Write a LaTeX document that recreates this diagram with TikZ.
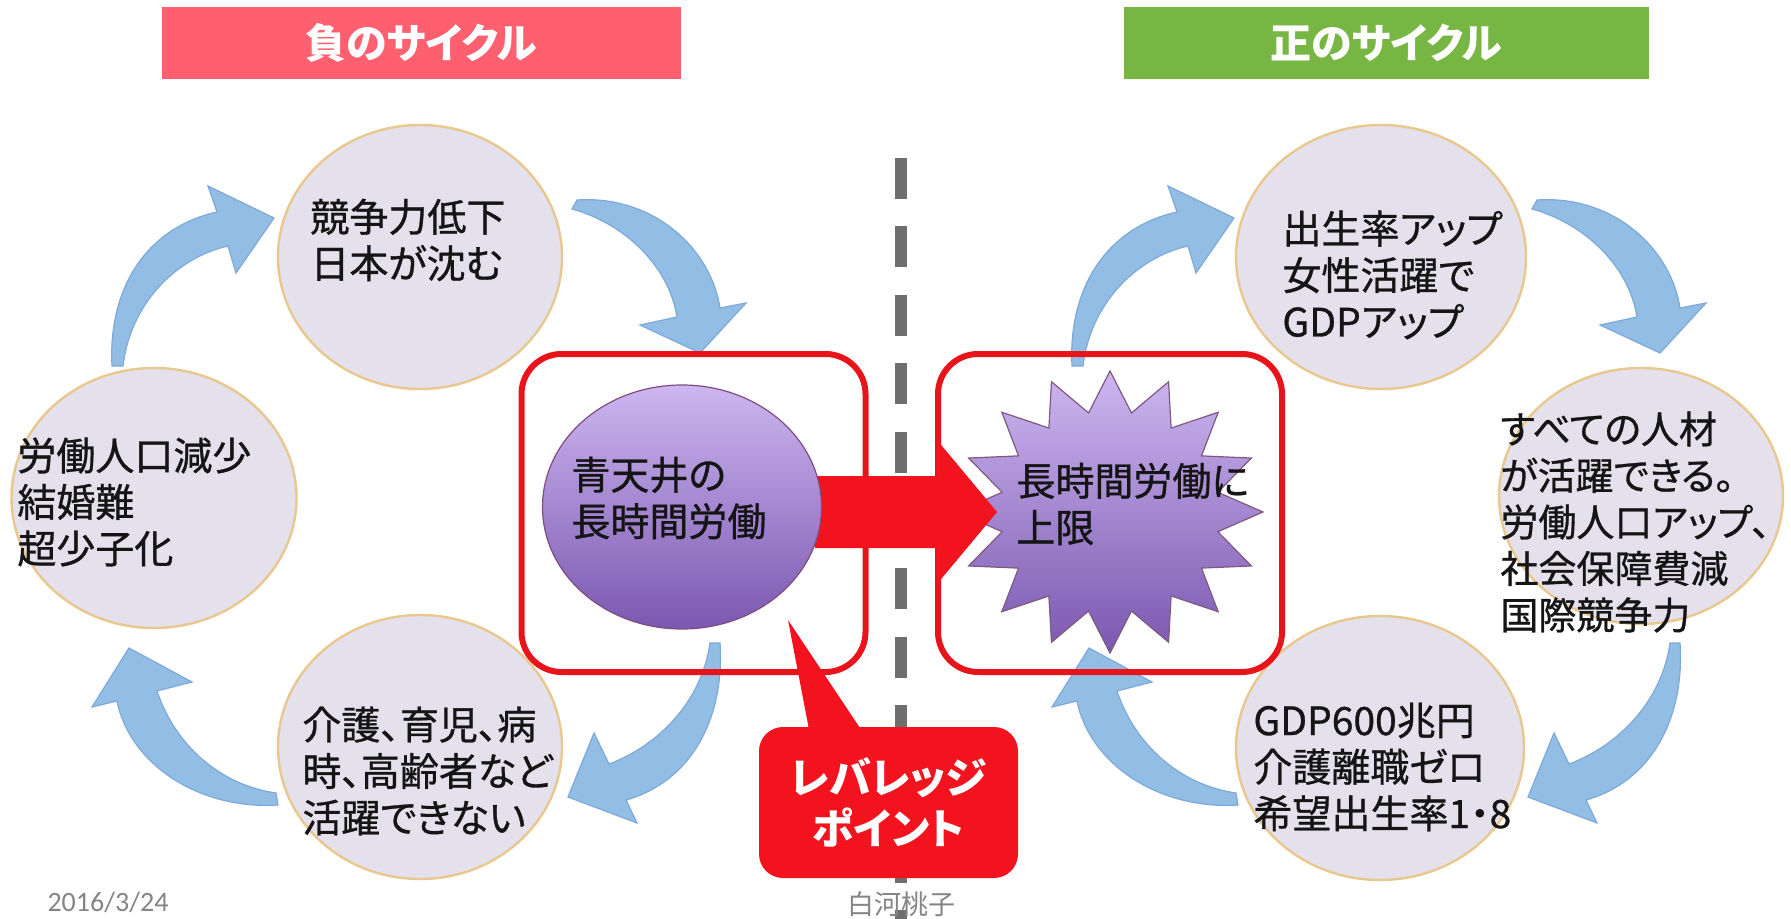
\documentclass[tikz,border=0pt]{standalone}
\usepackage{fontspec}
\setmainfont{Noto Sans CJK JP}[RawFeature=+palt]
\newfontfamily\jpmed{Noto Sans CJK JP}[RawFeature=+palt,FakeBold=0.8]
\newfontfamily\carl{Carlito}
\usetikzlibrary{shapes.geometric}
\definecolor{hdrpink}{HTML}{FE6070}
\definecolor{hdrgreen}{HTML}{78B643}
\definecolor{circfill}{HTML}{E4E1EC}
\definecolor{circline}{HTML}{E8C88E}
\definecolor{bluefill}{HTML}{92BEE5}
\definecolor{blueline}{HTML}{7EA9D8}
\definecolor{boxred}{HTML}{E8141C}
\definecolor{arrred}{HTML}{F2131E}
\definecolor{divgray}{HTML}{6E6E6E}
\definecolor{footgray}{HTML}{858585}
\definecolor{purtop}{HTML}{CDB6F0}
\definecolor{purbot}{HTML}{7A58B0}
\definecolor{txtdark}{HTML}{151515}
\begin{document}
\begin{tikzpicture}[x=0.5pt,y=-0.5pt,
  hdr/.style={text=white,inner sep=0pt,font=\bfseries\fontsize{20.5}{24}\selectfont},
  divline/.style={line width=6pt,draw=divgray,dash pattern=on 20.5pt off 13.7pt},
  barrow/.style={fill=bluefill,draw=blueline,line width=0.6pt},
  circ/.style={ellipse,fill=circfill,draw=circline,line width=1.2pt,inner sep=0pt},
  redbox/.style={draw=boxred,line width=3pt,rounded corners=20pt,inner sep=0pt,minimum width=172pt,minimum height=159pt},
  ctext/.style={align=left,anchor=west,inner sep=0pt,text=txtdark,font=\jpmed\fontsize{19.5}{23.25}\selectfont},
  foot/.style={text=footgray,inner sep=0pt}]
\useasboundingbox (0,0) rectangle (1791,919);
\fill[white] (0,0) rectangle (1791,919);

% headers
\node[hdr,fill=hdrpink,minimum width=259.5pt,minimum height=36pt] (hneg) at (421.5,43) {負のサイクル};
\node[hdr,fill=hdrgreen,minimum width=262.5pt,minimum height=36pt] (hpos) at (1386.5,43) {正のサイクル};

% dividing line
\coordinate (dtop) at (901,158);
\coordinate (dbot) at (901,919);
\draw[divline] (dtop) -- (dbot);

% blue curved arrows (left cycle, then the same shapes on the right)
\foreach \sx in {0,960}{
\begin{scope}[shift={(\sx,0)}]
\path[barrow] (112,366) .. controls (108,290) and (145,228) .. (217,212) -- (208,186) -- (274,218) -- (236,273) -- (228,246) .. controls (175,258) and (130,305) .. (123,366) -- cycle;
\path[barrow] (577,200) .. controls (650,195) and (710,245) .. (720,308) -- (746,303) -- (700,353) -- (640,325) -- (677,317) .. controls (668,262) and (620,222) .. (572,209) -- cycle;
\path[barrow] (720,643) .. controls (725,720) and (690,782) .. (626,800) -- (637,823) -- (568,797) -- (594,733) -- (609,764) .. controls (660,745) and (702,700) .. (710,643) -- cycle;
\path[barrow] (278,805) .. controls (200,810) and (130,765) .. (117,701) -- (92,707) -- (129,648) -- (192,682) -- (157,691) .. controls (175,745) and (220,785) .. (276,793) -- cycle;
\end{scope}}

% circles
\node[circ,minimum width=142pt,minimum height=132pt] (c1) at (420,257) {};
\node[circ,minimum width=142.5pt,minimum height=130pt] (c2) at (154,498) {};
\node[circ,minimum width=142pt,minimum height=132pt] (c3) at (420,747) {};
\node[circ,minimum width=145pt,minimum height=132pt] (r1) at (1381,257) {};
\node[circ,minimum width=142pt,minimum height=128pt] (r2) at (1641,496) {};
\node[circ,minimum width=144pt,minimum height=132pt] (r3) at (1380,748) {};

% red frames
\node[redbox] (lbox) at (693.5,513) {};
\node[redbox] (rbox) at (1110,513) {};

% starburst
\begin{scope}[shift={(1110,512)}]
\path[top color=purtop,bottom color=purbot,draw=gray!70!violet,line width=0.6pt]
  (90:153 and 141) \foreach \i in {0,...,15}{ -- (101.25+22.5*\i:110 and 101) -- (112.5+22.5*\i:153 and 141)} -- cycle;
\end{scope}

% red block arrow
\path[fill=arrred] (815,476) -- (937,476) -- (937,440) -- (997,512) -- (937,584) -- (937,548) -- (815,548) -- cycle;

% sphere
\node[ellipse,top color=purtop,bottom color=purbot,draw=gray!60!violet,line width=0.6pt,minimum width=139.5pt,minimum height=122pt,inner sep=0pt] (sph) at (682,507) {};

% callout
\coordinate (ptip) at (788,620);
\fill[arrred] (811,740) -- (ptip) -- (868,740) -- cycle;
\node[fill=arrred,rounded corners=12pt,minimum width=129.5pt,minimum height=75.5pt,inner sep=0pt,text=white,align=center,font=\bfseries\fontsize{21}{25.5}\selectfont] (lev) at (888.5,802.5) {レバレッジ\\ポイント};

% texts
\node[ctext] (c1t) at (310,240) {競争力低下\\日本が沈む};
\node[ctext] (c2t) at (17,502) {労働人口減少\\結婚難\\超少子化};
\node[ctext] (c3t) at (302,771) {介護、育児、病\\時、高齢者など\\活躍できない};
\node[ctext] (spht) at (571,498) {青天井の\\長時間労働};
\node[ctext] (limt) at (1016,504) {長時間労働に\\上限};
\node[ctext] (r1t) at (1282,275) {出生率アップ\\女性活躍で\\GDPアップ};
\node[ctext,font=\jpmed\fontsize{19}{23.25}\selectfont] (r2t) at (1500,522) {すべての人材\\が活躍できる。\\労働人口アップ、\\社会保障費減\\国際競争力};
\node[ctext] (r3t) at (1253,767) {GDP600兆円\\介護離職ゼロ\\希望出生率1・8};

% footer
\node[foot,font=\carl\fontsize{14}{16}\selectfont] (date) at (108,902) {2016/3/24};
\node[foot,font=\fontsize{13.5}{16}\selectfont] (author) at (901,904) {白河桃子};
\end{tikzpicture}
\end{document}
